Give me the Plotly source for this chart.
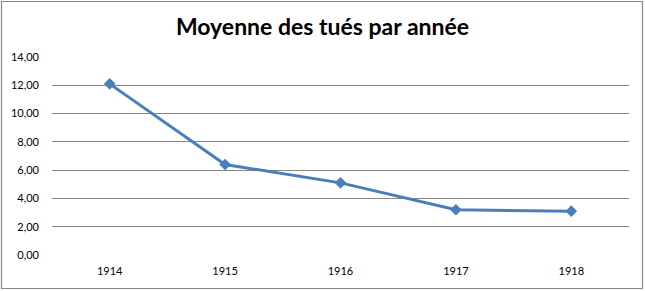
import plotly.graph_objects as go

years = ["1914", "1915", "1916", "1917", "1918"]
moyenne = [12.1, 6.4, 5.1, 3.2, 3.1]
y_ticks = [0, 2, 4, 6, 8, 10, 12, 14]

W, H = 645, 291
L, R, T, B = 52, 16, 57, 36
pw, ph = W - L - R, H - T - B

fig = go.Figure()
fig.add_trace(go.Scatter(
    x=years, y=moyenne, mode="lines+markers",
    line=dict(color="#4A7EBB", width=3),
    marker=dict(symbol="diamond", size=9, color="#4A7EBB"),
    hoverinfo="x+y",
))

fig.update_layout(
    width=W, height=H,
    margin=dict(l=L, r=R, t=T, b=B),
    paper_bgcolor="white", plot_bgcolor="white",
    separators=",.",
    showlegend=False,
    title=dict(text="<b>Moyenne des tués par année</b>", x=0.5, xanchor="center",
               y=1 - 27 / H, yanchor="middle", xref="container",
               font=dict(family="Lato", size=23, color="black")),
    font=dict(family="Lato", size=11, color="black"),
    xaxis=dict(type="category", showgrid=False, showline=False, ticks="",
               zeroline=False, tickfont=dict(size=11), ticklabelstandoff=8),
    yaxis=dict(range=[0, 14], tickvals=y_ticks, tickformat=".2f",
               showgrid=True, gridcolor="#878787", gridwidth=1,
               zeroline=False, showline=False, ticks="",
               tickfont=dict(size=11), ticklabelstandoff=12),
    shapes=[dict(type="rect", xref="paper", yref="paper",
                 x0=(1.5 - L) / pw, x1=(W - 2.5 - L) / pw,
                 y0=(H - B - (H - 2.5)) / ph, y1=(H - B - 1.5) / ph,
                 line=dict(color="#888888", width=1.2), layer="below")],
)
fig.update_xaxes(range=[-0.5, 4.5])

fig.write_html("out.html")
